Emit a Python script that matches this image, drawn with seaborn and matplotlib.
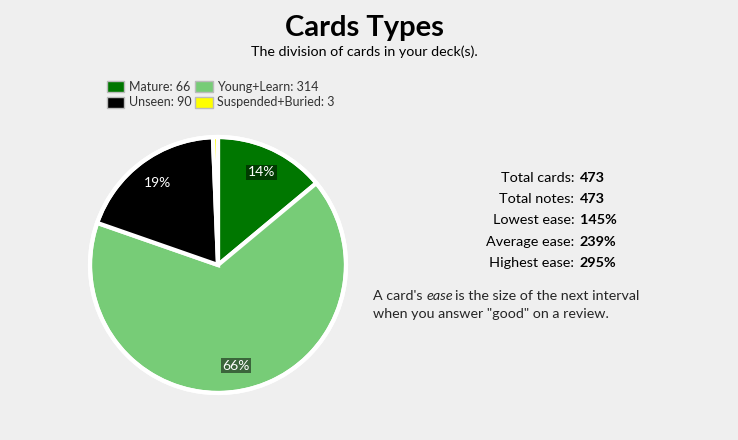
import matplotlib
matplotlib.use("Agg")
import matplotlib.pyplot as plt
import seaborn as sns

# data
categories = ["Mature", "Young+Learn", "Unseen", "Suspended+Buried"]
counts = [66, 314, 90, 3]
colors = ["#007700", "#77cc77", "#000000", "#ffff00"]

stat_labels = ["Total cards:", "Total notes:", "Lowest ease:", "Average ease:", "Highest ease:"]
stat_values = ["473", "473", "145%", "239%", "295%"]

sns.set_theme(style="white")
plt.rcParams['font.family'] = ['Lato', 'DejaVu Sans']

W, H = 738, 440
fig = plt.figure(figsize=(W / 100, H / 100), dpi=100)
fig.patch.set_facecolor("#efefef")

def px(x, y):
    # pixel coords (top-left origin) -> figure fraction
    return x / W, 1 - y / H

# title / subtitle
fig.text(*px(364, 28), "Cards Types", ha="center", va="center",
         fontsize=21, fontweight="bold", color="black")
fig.text(*px(364, 52), "The division of cards in your deck(s).", ha="center",
         va="center", fontsize=10.3, color="black")

# pie axes: centre (218, 265), radius ~128 px
r_px = 128
lim = 1.05
side = 2 * r_px * lim
ax = fig.add_axes([(218 - side / 2) / W, (H - 265 - side / 2) / H, side / W, side / H])
ax.set_facecolor("none")
wedges, texts, autotexts = ax.pie(
    counts, colors=colors, startangle=90, counterclock=False, radius=1,
    autopct=lambda p: f"{p:.0f}%" if p > 5 else "", pctdistance=0.8,
    wedgeprops=dict(edgecolor="white", linewidth=3),
    textprops=dict(color="white", fontsize=10))
for t in autotexts:
    if t.get_text():
        t.set_bbox(dict(facecolor="black", alpha=0.5, edgecolor="none", pad=1))
ax.add_patch(plt.Circle((0, 0), 1.0, fill=False, edgecolor="white", linewidth=3))
ax.set_xlim(-lim, lim)
ax.set_ylim(-lim, lim)
ax.set_aspect("equal")
ax.axis("off")

# legend, two columns
leg_handles = [plt.Rectangle((0, 0), 1, 1, facecolor=c, edgecolor="#bbbbbb", linewidth=1)
               for c in colors]
leg_labels = [f"{c}: {n}" for c, n in zip(categories, counts)]
order = [0, 2, 1, 3]
fig.legend([leg_handles[i] for i in order], [leg_labels[i] for i in order],
           ncol=2, loc="upper left", bbox_to_anchor=px(98, 72), frameon=False,
           fontsize=9, labelcolor="#333333", handlelength=1.4, handleheight=1.0,
           handletextpad=0.35, columnspacing=0.3, labelspacing=0.3, borderpad=0.2)

# stats on the right
for i, (lab, val) in enumerate(zip(stat_labels, stat_values)):
    y = 178 + i * 21.2
    fig.text(*px(578, y), lab + " ", ha="right", va="center", fontsize=10.4, color="black")
    fig.text(*px(580, y), val, ha="left", va="center", fontsize=10.4,
             fontweight="bold", color="black")

t1 = fig.text(*px(373, 296), "A card's ", ha="left", va="center", fontsize=10.3)
fig.canvas.draw()
bb = t1.get_window_extent()
t2 = fig.text(bb.x1 / W, 1 - 296 / H, "ease", ha="left", va="center",
              fontsize=10.3, style="italic")
fig.canvas.draw()
bb2 = t2.get_window_extent()
fig.text(bb2.x1 / W + 0.003, 1 - 296 / H, "is the size of the next interval",
         ha="left", va="center", fontsize=10.3)
fig.text(*px(373, 314), 'when you answer "good" on a review.', ha="left",
         va="center", fontsize=10.3)

fig.savefig("out.png", dpi=100, facecolor=fig.get_facecolor())
